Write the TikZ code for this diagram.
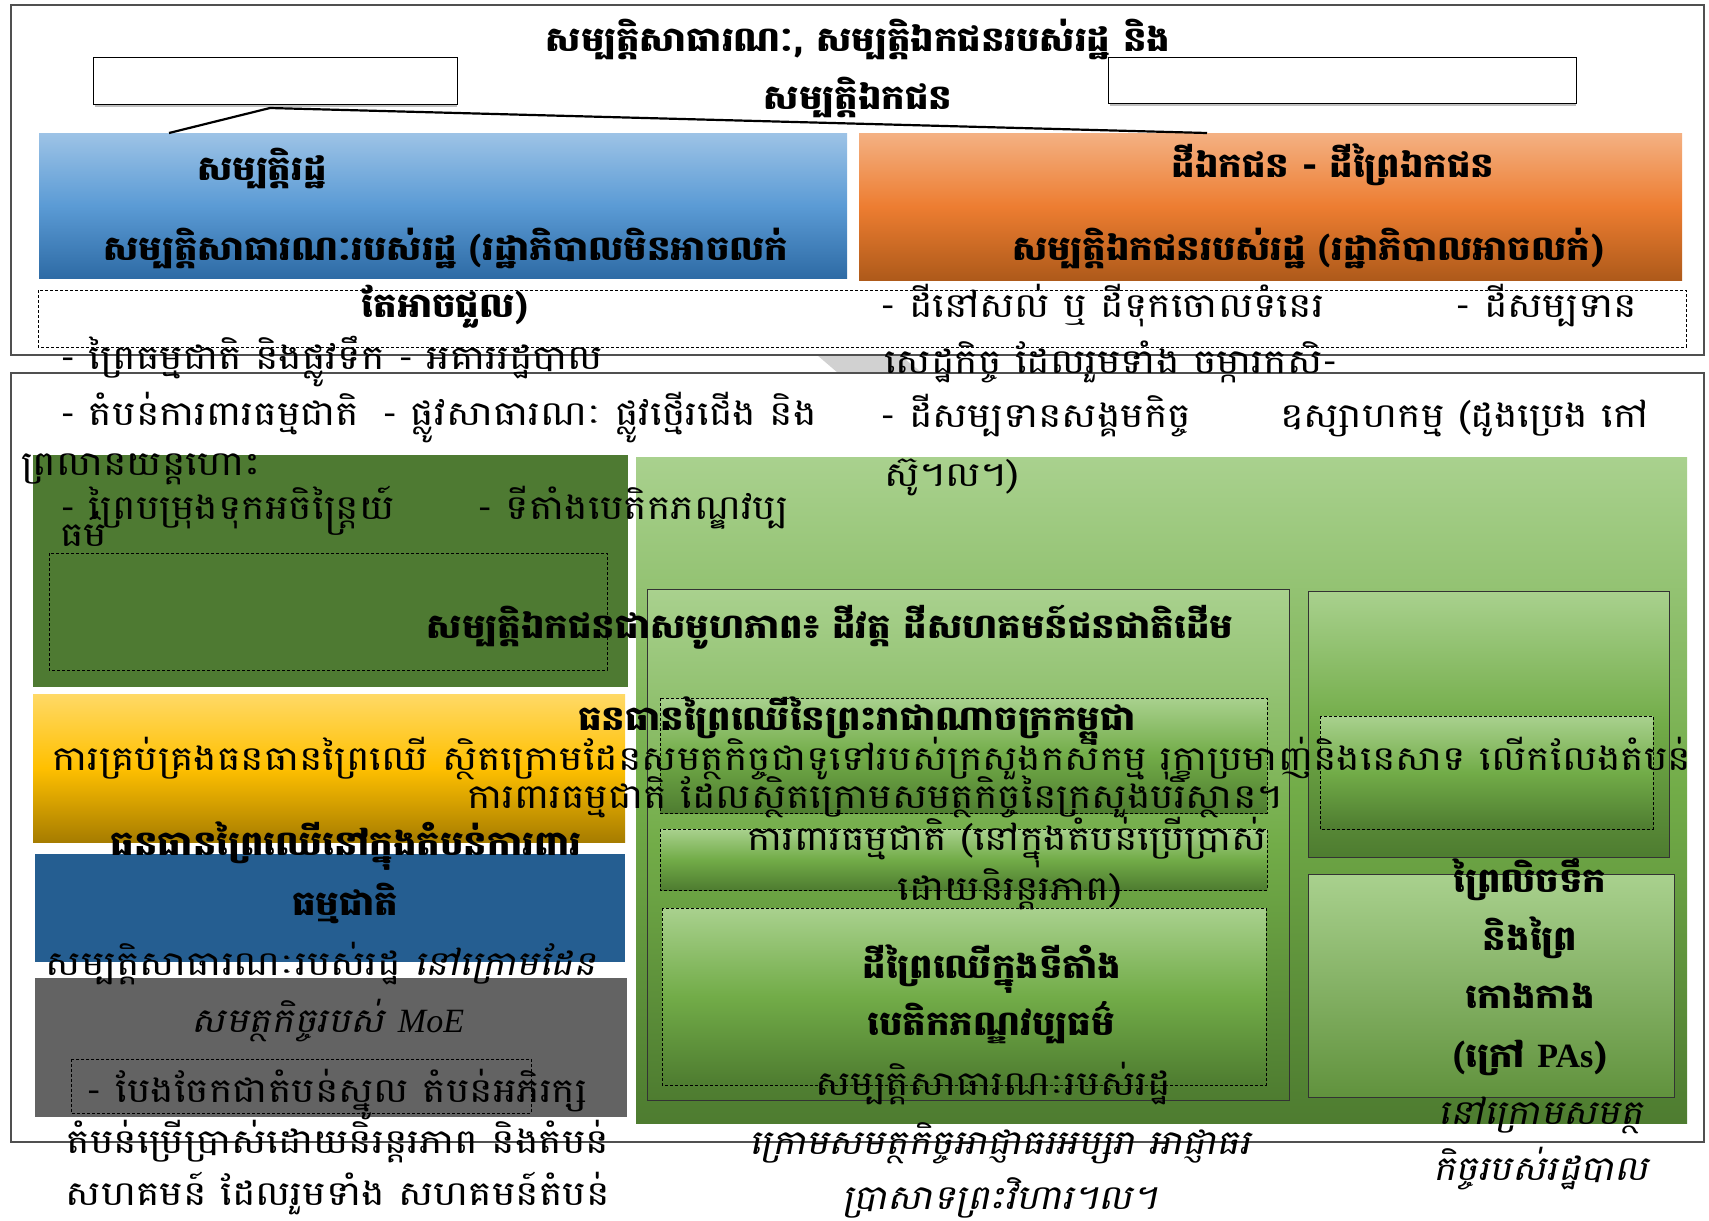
\documentclass[tikz,border=0pt]{standalone}
\usepackage{fontspec}
\newfontfamily\kh[Script=Khmer,FakeStretch=1.16]{Battambang}
\newfontfamily\khb[Script=Khmer,FakeStretch=1.09]{Battambang}
\newfontfamily\khsl[Script=Khmer,FakeSlant=0.2,FakeStretch=1.12]{Battambang}
\newfontfamily\lat{Liberation Serif}
\definecolor{bluetop}{HTML}{9DC3E6}
\definecolor{bluebot}{HTML}{2E6BA5}
\definecolor{bluemid}{HTML}{5B9BD5}
\definecolor{ortop}{HTML}{F4B183}
\definecolor{ormid}{HTML}{ED7D31}
\definecolor{orbot}{HTML}{AE5A1A}
\definecolor{dkgreen}{HTML}{4E7A32}
\definecolor{yltop}{HTML}{FFD966}
\definecolor{ylmid}{HTML}{FFC000}
\definecolor{ylbot}{HTML}{A67C00}
\definecolor{deepblue}{HTML}{255E91}
\definecolor{boxgray}{HTML}{636363}
\definecolor{grtop}{HTML}{A9D18E}
\definecolor{grmid}{HTML}{72AC48}
\definecolor{grbot}{HTML}{4E7C30}
\definecolor{frame}{HTML}{505050}
\tikzset{
  rg/.style={font=\kh\fontsize{34}{38}\selectfont, inner sep=0pt, anchor=base},
  bd/.style={font=\khb\bfseries\fontsize{34}{38}\selectfont, inner sep=0pt, anchor=base},
  it/.style={font=\khsl\fontsize{34}{38}\selectfont, inner sep=0pt, anchor=base},
  dbox/.style={draw=black, dash pattern=on 3pt off 2pt, line width=0.9pt},
  outer/.style={draw=frame, line width=1.6pt},
  inner/.style={draw=black!80, line width=1pt},
  grshade/.style={top color=grtop, bottom color=grbot, middle color=grmid},
}
\begin{document}
\begin{tikzpicture}[x=1pt,y=-1pt]
\useasboundingbox[fill=white] (0,0) rectangle (1709,1221);
% gray chevron between frames
\fill[black!18] (817,355) -- (900,355) -- (922,373) -- (838,373) -- cycle;
% outer frames
\draw[outer] (11,5) rectangle (1704,355);
\draw[outer] (11,373) rectangle (1704,1142);
% small white boxes
\draw[black!25, line width=2pt] (95,106) -- (457,106);
\draw[black!25, line width=2pt] (1110,105) -- (1576,105);
\node[draw=black, line width=1pt, fill=white, minimum width=364pt, minimum height=47pt, inner sep=0, anchor=north west] (lbox) at (93,57) {};
\node[draw=black, line width=1pt, fill=white, minimum width=468pt, minimum height=46pt, inner sep=0, anchor=north west] (rbox) at (1108,57) {};
% top boxes
\path[top color=bluetop, bottom color=bluebot, middle color=bluemid] (39,133) rectangle (847,278);
\path[top color=ortop, bottom color=orbot, middle color=ormid] (859,133) rectangle (1682,280);
\coordinate (kink) at (270,108);
\coordinate (bl) at (169,133);
\coordinate (or) at (1207,133);
\draw[line width=2.2pt] (bl) -- (kink) -- (or);
\draw[dbox] (38,290) rectangle (1686,347);
% lower left boxes
\fill[dkgreen] (33,455) rectangle (628,687);
\draw[dbox] (49,553) rectangle (607,670);
\path[top color=yltop, bottom color=ylbot, middle color=ylmid] (33,694) rectangle (625,842);
\fill[deepblue] (35,854) rectangle (625,962);
\fill[boxgray] (35,978) rectangle (627,1117);
\draw[dbox] (71,1059) rectangle (531,1113);
% big green area
\path[grshade] (636,457) rectangle (1687,1123);
\path[grshade, inner] (647,589) rectangle (1289,1100);
\path[grshade, dbox] (660,698) rectangle (1267,813);
\path[grshade, dbox] (660,829) rectangle (1267,890);
\path[grshade, dbox] (662,908) rectangle (1266,1085);
\path[grshade, inner] (1308,591) rectangle (1669,857);
\path[grshade, dbox] (1320,716) rectangle (1653,829);
\path[top color=grtop, bottom color=grmid!85!black, inner] (1308,874) rectangle (1674,1097);

% ---------- texts ----------
\node[bd] (t1) at (858,51) {សម្បត្តិសាធារណៈ, សម្បត្តិឯកជនរបស់រដ្ឋ និង};
\node[bd] (t2) at (858,109) {សម្បត្តិឯកជន};
\node[bd] (b1) at (262,180) {សម្បត្តិរដ្ឋ};
\node[bd] (b2) at (446,260) {សម្បត្តិសាធារណៈរបស់រដ្ឋ (រដ្ឋាភិបាលមិនអាចលក់};
\node[bd] (b3) at (445,317) {តែអាចជួល)};
\node[bd] (o1) at (1333,177) {ដីឯកជន - ដីព្រៃឯកជន};
\node[bd] (o2) at (1308,260) {សម្បត្តិឯកជនរបស់រដ្ឋ (រដ្ឋាភិបាលអាចលក់)};
% right list
\node[rg, anchor=base west] (r1) at (880,317) {- ដីនៅសល់ ឬ ដីទុកចោលទំនេរ};
\node[rg, anchor=base west] (r2) at (1455,317) {- ដីសម្បទាន};
\node[rg, anchor=base west] (r3) at (884,373) {សេដ្ឋកិច្ច ដែលរួមទាំង ចម្ការកសិ-};
\node[rg, anchor=base west] (r4) at (880,427) {- ដីសម្បទានសង្គមកិច្ច};
\node[rg, anchor=base west] (r5) at (1280,427) {ឧស្សាហកម្ម (ដូងប្រេង កៅ};
\node[rg, anchor=base west] (r6) at (884,486) {ស៊ូ។ល។)};
% left list
\node[rg, anchor=base west] (l1) at (60,369) {- ព្រៃធម្មជាតិ និងផ្លូវទឹក - អគាររដ្ឋបាល};
\node[rg, anchor=base west] (l2) at (60,425) {- តំបន់ការពារធម្មជាតិ};
\node[rg, anchor=base west] (l3) at (382,425) {- ផ្លូវសាធារណៈ ផ្លូវថ្មើរជើង និង};
\node[rg, anchor=base west] (l4) at (21,475) {ព្រលានយន្តហោះ};
\node[rg, anchor=base west] (l5) at (60,519) {- ព្រៃបម្រុងទុកអចិន្ត្រៃយ៍};
\node[rg, anchor=base west] (l6) at (477,519) {- ទីតាំងបេតិកភណ្ឌវប្ប};
\node[rg, anchor=base west] (l7) at (60,546) {ធម៌};
% middle
\node[bd] (m1) at (830,638) {សម្បត្តិឯកជនជាសមូហភាព៖ ដីវត្ត ដីសហគមន៍ជនជាតិដើម};
\node[bd] (m2) at (857,730) {ធនធានព្រៃឈើនៃព្រះរាជាណាចក្រកម្ពុជា};
\node[rg] (m3) at (872,770) {ការគ្រប់គ្រងធនធានព្រៃឈើ ស្ថិតក្រោមដែនសមត្ថកិច្ចជាទូទៅរបស់ក្រសួងកសិកម្ម រុក្ខាប្រមាញ់និងនេសាទ លើកលែងតំបន់};
\node[rg] (m4) at (875,808) {ការពារធម្មជាតិ ដែលស្ថិតក្រោមសមត្ថកិច្ចនៃក្រសួងបរិស្ថាន។};
\node[rg] (m5) at (1007,850) {ការពារធម្មជាតិ (នៅក្នុងតំបន់ប្រើប្រាស់};
\node[rg] (m6) at (1010,900) {ដោយនិរន្តរភាព)};
% lower left
\node[bd] (p1) at (346,855) {ធនធានព្រៃឈើនៅក្នុងតំបន់ការពារ};
\node[bd] (p2) at (345,915) {ធម្មជាតិ};
\node[rg] (p3) at (321,975) {សម្បត្តិសាធារណៈរបស់រដ្ឋ {\khsl នៅក្រោមដែន}};
\node[it] (p4) at (328,1032) {សមត្ថកិច្ចរបស់ {\lat\itshape MoE}};
\node[rg] (p5) at (337,1102) {- បែងចែកជាតំបន់ស្នូល តំបន់អភិរក្ស};
\node[rg] (p6) at (338,1153) {តំបន់ប្រើប្រាស់ដោយនិរន្តរភាព និងតំបន់};
\node[rg] (p7) at (338,1205) {សហគមន៍ ដែលរួមទាំង សហគមន៍តំបន់};
% cultural sites
\node[bd] (c1) at (992,978) {ដីព្រៃឈើក្នុងទីតាំង};
\node[bd] (c2) at (991,1035) {បេតិកភណ្ឌវប្បធម៌};
\node[rg] (c3) at (993,1095) {សម្បត្តិសាធារណៈរបស់រដ្ឋ};
\node[it] (c4) at (1000,1154) {ក្រោមសមត្ថកិច្ចអាជ្ញាធរអប្សរា អាជ្ញាធរ};
\node[it] (c5) at (1000,1209) {ប្រាសាទព្រះវិហារ។ល។};
% flooded forest
\node[bd] (f1) at (1530,892) {ព្រៃលិចទឹក};
\node[bd] (f2) at (1530,950) {និងព្រៃ};
\node[bd] (f3) at (1530,1008) {កោងកាង};
\node[bd] (f4) at (1530,1067) {(ក្រៅ {\lat\bfseries PAs})};
\node[it] (f5) at (1541,1124) {នៅក្រោមសមត្ថ};
\node[it] (f6) at (1541,1180) {កិច្ចរបស់រដ្ឋបាល};
\end{tikzpicture}
\end{document}
